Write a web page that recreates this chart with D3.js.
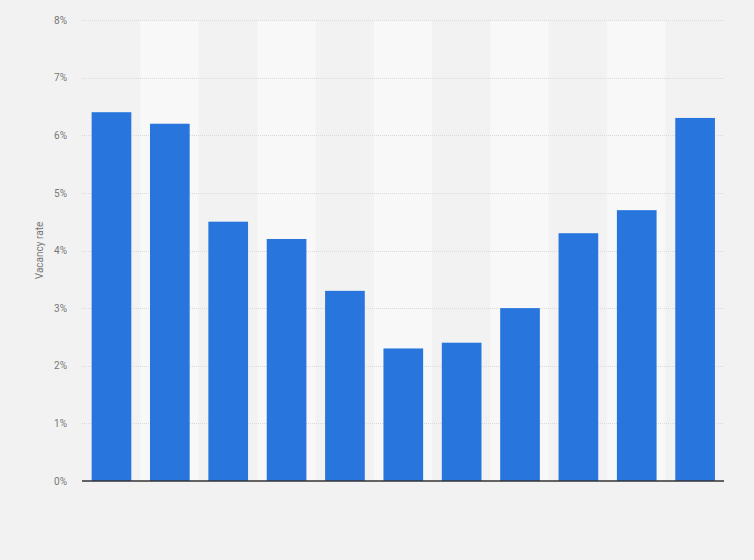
<!DOCTYPE html>
<html lang="en">
<head>
    <meta charset="UTF-8">
    <title>Vacancy rate</title>
    <script src="https://cdn.jsdelivr.net/npm/d3@7"></script>
    <style>
        body { margin: 0; background: #f2f2f2; }
        svg { display: block; font-family: Roboto, "Noto Sans", sans-serif; }
    </style>
</head>
<body>
    <script>
        // categories (x labels are not shown on the chart)
        var categories = ["1","2","3","4","5","6","7","8","9","10","11"];
        var vacancy = [6.4, 6.2, 4.5, 4.2, 3.3, 2.3, 2.4, 3.0, 4.3, 4.7, 6.3];
        var yTicks = [0, 1, 2, 3, 4, 5, 6, 7, 8];

        var w = 754, h = 560;
        // note: "top" is reserved on window, so plot edges get a prefix
        var plotLeft = 82, plotRight = 724, plotTop = 20, plotBottom = 481;

        var svg = d3.select("body").append("svg")
            .attr("width", w)
            .attr("height", h);

        svg.append("rect")
            .attr("width", w).attr("height", h)
            .attr("fill", "#f2f2f2");

        var x = d3.scaleBand().domain(categories).range([plotLeft, plotRight]).padding(0);
        var y = d3.scaleLinear().domain([0, 8]).range([plotBottom, plotTop]);

        // alternating column bands
        svg.append("g").selectAll("rect")
            .data(categories)
            .enter().append("rect")
            .attr("x", function(d){ return x(d); })
            .attr("y", plotTop)
            .attr("width", x.bandwidth())
            .attr("height", plotBottom - plotTop)
            .attr("fill", function(d, i){ return i % 2 ? "#f8f8f8" : "#f2f2f2"; });

        // gridlines
        svg.append("g").selectAll("line")
            .data(yTicks.filter(function(t){ return t > 0; }))
            .enter().append("line")
            .attr("x1", plotLeft).attr("x2", plotRight)
            .attr("y1", function(d){ return Math.round(y(d)) + 0.5; })
            .attr("y2", function(d){ return Math.round(y(d)) + 0.5; })
            .attr("stroke", "#d9d9d9")
            .attr("stroke-width", 1)
            .attr("stroke-dasharray", "1,1");

        // y axis labels
        var yAxis = d3.axisLeft(y)
            .tickValues(yTicks)
            .tickSize(0)
            .tickPadding(15)
            .tickFormat(function(d){ return d + "%"; });
        var ya = svg.append("g")
            .attr("transform", "translate(" + plotLeft + ",0)")
            .call(yAxis);
        ya.select(".domain").remove();
        ya.selectAll("text")
            .attr("fill", "#777")
            .attr("font-size", "10px")
            .attr("font-family", "Roboto, sans-serif");

        // bars
        var bw = x.bandwidth();
        svg.append("g").selectAll("rect")
            .data(vacancy)
            .enter().append("rect")
            .attr("x", function(d, i){ return x(categories[i]) + bw * 0.165; })
            .attr("width", bw * 0.68)
            .attr("y", function(d){ return y(d); })
            .attr("height", function(d){ return y(0) - y(d); })
            .attr("fill", "#2876dd");

        // baseline
        svg.append("line")
            .attr("x1", plotLeft).attr("x2", plotRight)
            .attr("y1", y(0)).attr("y2", y(0))
            .attr("stroke", "#333")
            .attr("stroke-width", 1.5);

        // y axis title
        svg.append("text")
            .attr("transform", "translate(43," + ((plotTop + plotBottom) / 2) + ") rotate(-90)")
            .attr("text-anchor", "middle")
            .attr("fill", "#777")
            .attr("font-size", "10px")
            .text("Vacancy rate");
    </script>
</body>
</html>
